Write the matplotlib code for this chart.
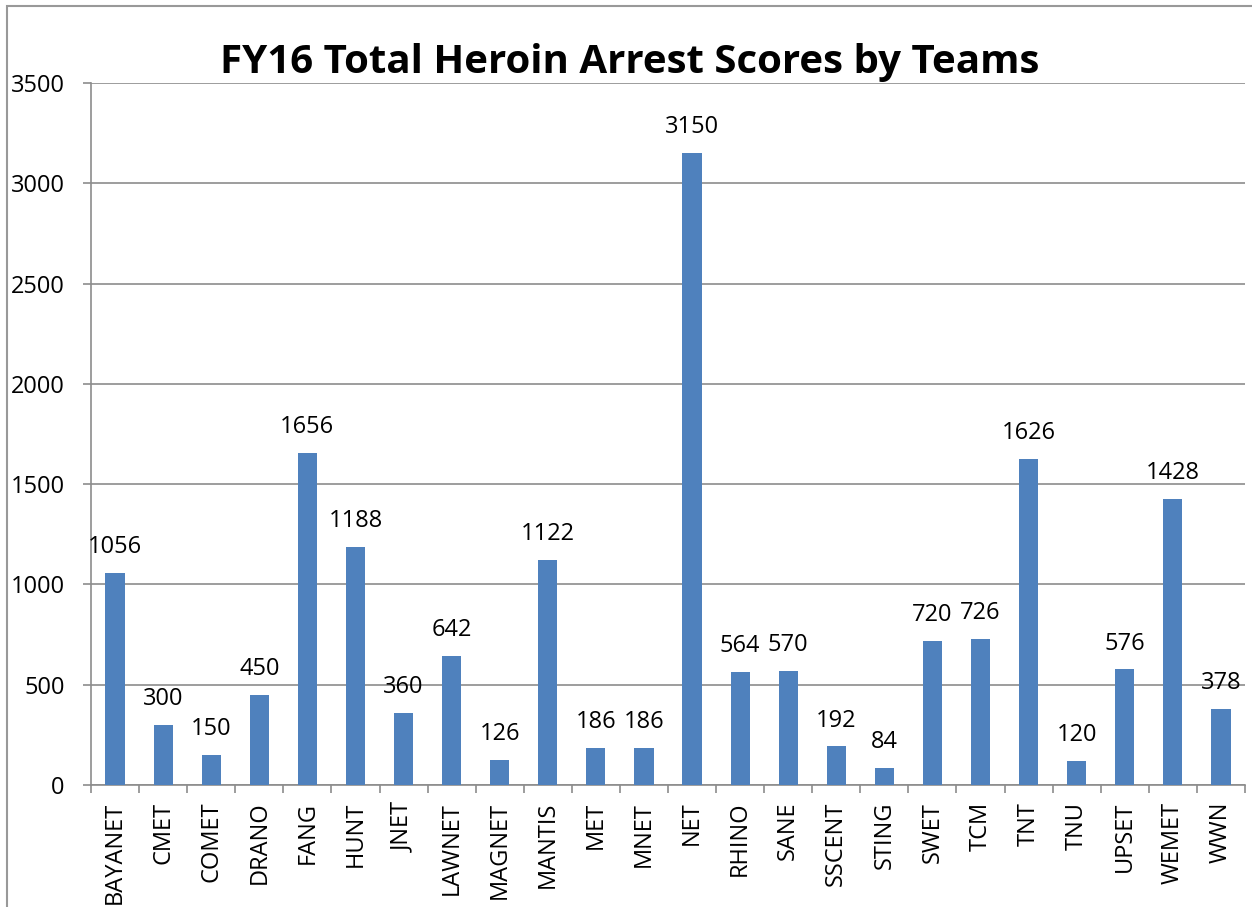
"""
FY16 total heroin arrest scores by team.
"""
import matplotlib
matplotlib.use("Agg")
import matplotlib.pyplot as plt
from matplotlib.patches import Rectangle

teams = ["BAYANET", "CMET", "COMET", "DRANO", "FANG", "HUNT", "JNET", "LAWNET",
         "MAGNET", "MANTIS", "MET", "MNET", "NET", "RHINO", "SANE", "SSCENT",
         "STING", "SWET", "TCM", "TNT", "TNU", "UPSET", "WEMET", "WWN"]
scores = [1056, 300, 150, 450, 1656, 1188, 360, 642, 126, 1122, 186, 186,
          3150, 564, 570, 192, 84, 720, 726, 1626, 120, 576, 1428, 378]
yticks = [0, 500, 1000, 1500, 2000, 2500, 3000, 3500]

plt.rcParams["font.family"] = ["Open Sans", "DejaVu Sans"]

fig = plt.figure(figsize=(12.52, 9.07), dpi=100)
# chart border (Excel chart area)
fig.patches.append(Rectangle((7 / 1252, -0.1), 1.2, (907 - 6) / 907 + 0.1,
                             transform=fig.transFigure, fill=False,
                             edgecolor="#999999", lw=1.5))

ax = fig.add_axes([91 / 1252, 122 / 907, 1154 / 1252, 702 / 907])
x = range(len(teams))
bars = ax.bar(x, scores, width=0.4, color="#4F81BD", zorder=3)
for b, v in zip(bars, scores):
    ax.annotate(str(v), (b.get_x() + b.get_width() / 2, v), xytext=(0, 10),
                textcoords="offset points", ha="center", va="bottom",
                fontsize=17)

ax.set_xlim(-0.5, len(teams) - 0.5)
ax.set_ylim(0, 3500)
ax.set_yticks(yticks)
ax.set_yticklabels([str(t) for t in yticks], fontsize=17)
ax.grid(True, axis="y", color="#8c8c8c", lw=1.2, zorder=0)

ax.set_xticks(list(x))
ax.set_xticklabels(teams, rotation=90, fontsize=17)
ax.set_xticks([i - 0.5 for i in range(len(teams) + 1)], minor=True)
ax.tick_params(axis="x", which="major", length=0, pad=12)
ax.tick_params(axis="x", which="minor", length=6, color="#8c8c8c", width=1.2)
ax.tick_params(axis="y", length=6, color="#8c8c8c", width=1.2, pad=13)

for s in ["top", "right"]:
    ax.spines[s].set_visible(False)
for s in ["left", "bottom"]:
    ax.spines[s].set_color("#8c8c8c")
    ax.spines[s].set_linewidth(1.2)

fig.text(630 / 1252, (907 - 62) / 907, "FY16 Total Heroin Arrest Scores by Teams",
         ha="center", va="center", fontsize=29, fontweight="bold")

fig.savefig("out.png", dpi=100)
